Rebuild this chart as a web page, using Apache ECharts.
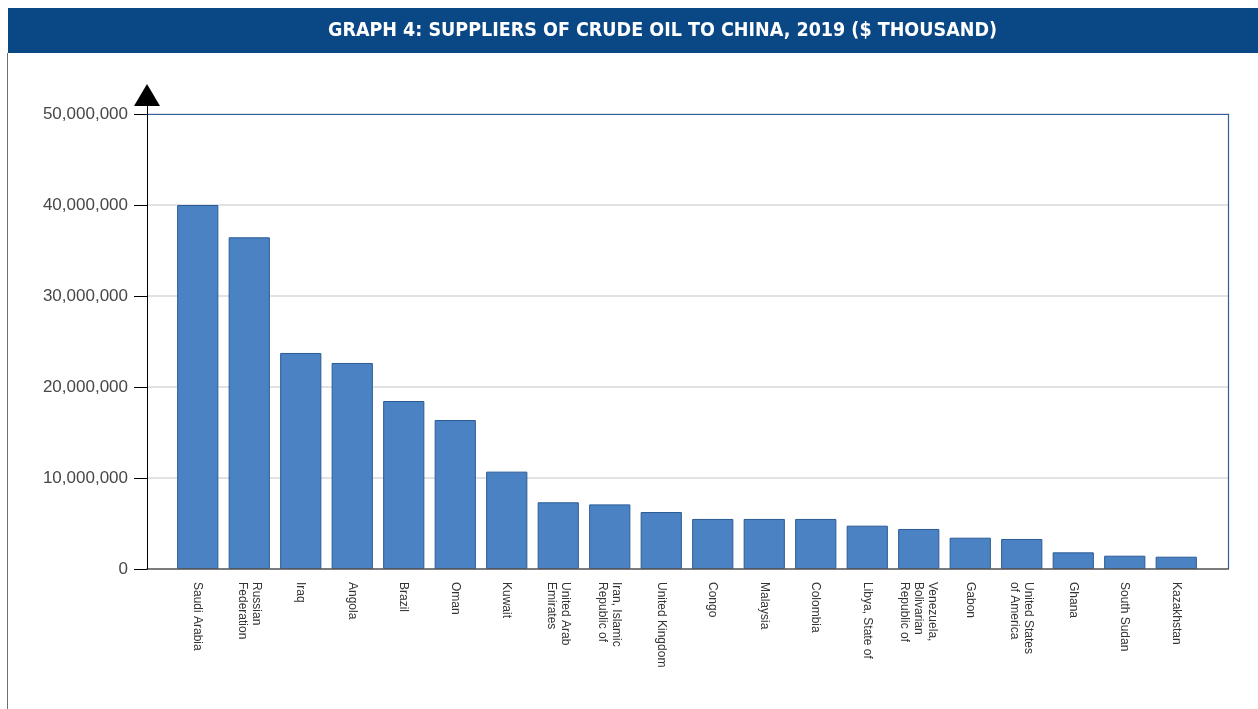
<!DOCTYPE html>
<html>
<head>
<meta charset="utf-8">
<script src="https://cdn.jsdelivr.net/npm/echarts@6/dist/echarts.min.js"></script>
<style>
html,body{margin:0;padding:0;background:#fff;}
#chart{width:1258px;height:709px;}
</style>
</head>
<body>
<div id="chart"></div>
<script>
const titleText = 'GRAPH 4: SUPPLIERS OF CRUDE OIL TO CHINA, 2019 ($ THOUSAND)';
const countries = [
  'Saudi Arabia', 'Russian\nFederation', 'Iraq', 'Angola', 'Brazil', 'Oman', 'Kuwait',
  'United Arab\nEmirates', 'Iran, Islamic\nRepublic of', 'United Kingdom', 'Congo', 'Malaysia',
  'Colombia', 'Libya, State of', 'Venezuela,\nBolivarian\nRepublic of', 'Gabon',
  'United States\nof America', 'Ghana', 'South Sudan', 'Kazakhstan'
];
const importValues = [
  40000000, 36450000, 23740000, 22640000, 18460000, 16370000, 10700000,
  7330000, 7100000, 6260000, 5500000, 5500000,
  5500000, 4760000, 4400000, 3440000,
  3300000, 1830000, 1460000, 1350000
];
const yMin = 0, yMax = 50000000, yStep = 10000000;

const fmt = v => String(v).replace(/\B(?=(\d{3})+(?!\d))/g, ',');

const chart = echarts.init(document.getElementById('chart'), null, {renderer: 'canvas'});
const option = {
  animation: false,
  backgroundColor: '#fff',
  title: {
    text: titleText,
    left: 328,
    top: 21,
    padding: 0,
    textStyle: {
      color: '#fff',
      fontFamily: '"DejaVu Sans Condensed", "Liberation Sans Narrow", Arial, sans-serif',
      fontWeight: 'bold',
      fontSize: 19.5
    }
  },
  graphic: [
    {type: 'rect', left: 8, top: 8, z: -1, shape: {width: 1250, height: 45}, style: {fill: '#0a4785'}},
    {type: 'rect', left: 7, top: 53, z: -1, shape: {width: 1, height: 656}, style: {fill: '#6f6f6f'}}
  ],
  grid: [
    {left: 147, right: 30, top: 114, bottom: 140},
    {left: 172, right: 56, top: 114, bottom: 140},
    {left: 147, right: 30, top: 95, bottom: 140}
  ],
  xAxis: [
    {gridIndex: 0, type: 'category', data: [''], position: 'bottom', z: 5,
     axisLine: {show: true, onZero: false, lineStyle: {color: '#595959', width: 1.5}},
     axisTick: {show: false}, axisLabel: {show: false}, splitLine: {show: false}},
    {gridIndex: 0, type: 'category', data: [''], position: 'top', z: 5,
     axisLine: {show: true, onZero: false, lineStyle: {color: '#2f5f9c', width: 1.2}},
     axisTick: {show: false}, axisLabel: {show: false}, splitLine: {show: false}},
    {gridIndex: 1, type: 'category', data: countries, position: 'bottom',
     axisLine: {show: false}, axisTick: {show: false}, splitLine: {show: false},
     axisLabel: {show: true, interval: 0, rotate: -90, margin: 13, fontSize: 12,
       lineHeight: 14, color: '#333', fontFamily: 'Arial, "Liberation Sans", sans-serif'}},
    {gridIndex: 2, type: 'category', data: [''], show: false}
  ],
  yAxis: [
    {gridIndex: 0, type: 'value', min: yMin, max: yMax, interval: yStep, position: 'left', z: 1,
     axisLine: {show: true, onZero: false, lineStyle: {color: '#000', width: 1}},
     axisTick: {show: true, length: 13, lineStyle: {color: '#000', width: 1}},
     axisLabel: {show: true, margin: 19, fontSize: 17, color: '#474747',
       fontFamily: 'Arial, "Liberation Sans", sans-serif', formatter: v => fmt(v)},
     splitLine: {show: true, lineStyle: {color: '#d9d9d9', width: 1.5}}},
    {gridIndex: 0, type: 'value', min: yMin, max: yMax, interval: yStep, position: 'right', z: 5,
     axisLine: {show: true, onZero: false, lineStyle: {color: '#2f5f9c', width: 1.2}},
     axisTick: {show: false}, axisLabel: {show: false}, splitLine: {show: false}},
    {gridIndex: 1, type: 'value', min: yMin, max: yMax, interval: yStep, show: false,
     splitLine: {show: false}},
    {gridIndex: 2, type: 'value', min: 0, max: 1, position: 'left', z: 6,
     axisLine: {show: true, onZero: false, symbol: ['none', 'triangle'], symbolSize: [26, 22],
       lineStyle: {color: '#000', width: 1}},
     axisTick: {show: false}, axisLabel: {show: false}, splitLine: {show: false}}
  ],
  series: [{
    type: 'bar',
    xAxisIndex: 2,
    yAxisIndex: 2,
    data: importValues,
    barCategoryGap: '20%',
    itemStyle: {color: '#4a82c3', borderColor: '#2a5a94', borderWidth: 1}
  }]
};
chart.setOption(option);
</script>
</body>
</html>
